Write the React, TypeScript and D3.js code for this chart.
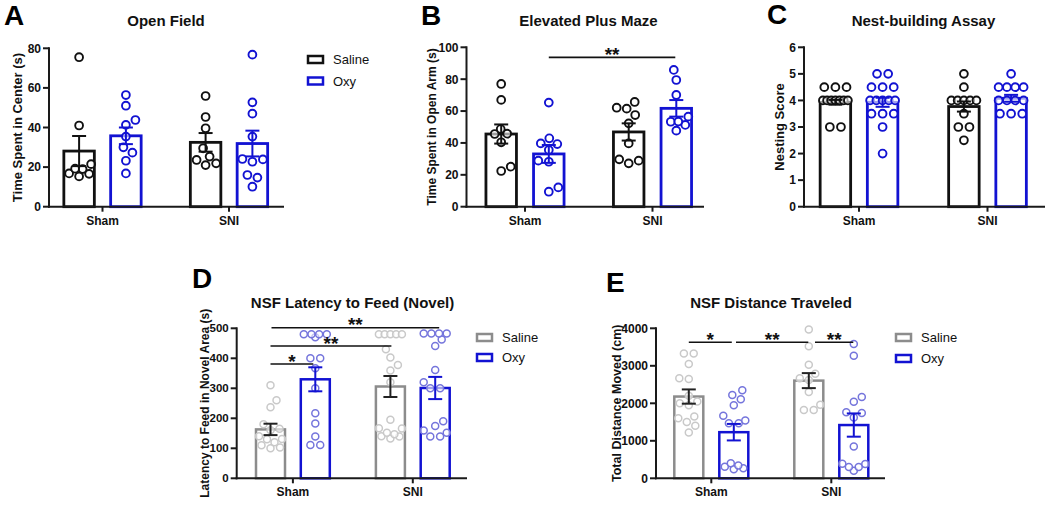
import React from "react";
import * as d3 from "d3";

const categories = ["Sham", "SNI"];
const seriesNames = ["Saline", "Oxy"];

// A: Open Field
const openFieldTicks = [0, 20, 40, 60, 80];
const openFieldSalineMean = [28.1, 32.5];
const openFieldSalineSem = [7.6, 4.7];
const openFieldOxyMean = [35.8, 31.9];
const openFieldOxySem = [4.2, 6.5];
const openFieldSalineSham = [75.5, 41, 21.5, 19, 16.8, 15.3, 16.6, 19.2];
const openFieldSalineSNI = [55.9, 45.3, 39.6, 29.5, 25.3, 23.6, 21.9, 21];
const openFieldOxySham = [56.4, 51, 43.8, 41.3, 35.4, 30, 27.3, 23.2, 16.8];
const openFieldOxySNI = [76.8, 52.7, 47, 35.4, 23.9, 24.1, 22.7, 16, 14.7, 10.1];

// B: Elevated Plus Maze
const plusMazeTicks = [0, 20, 40, 60, 80, 100];
const plusMazeSalineMean = [45.6, 46.9];
const plusMazeSalineSem = [6.0, 5.4];
const plusMazeOxyMean = [33.1, 61.7];
const plusMazeOxySem = [5.6, 5.2];
const plusMazeSalineSham = [77, 67, 48.7, 45.6, 45.8, 40.4, 25.1, 22.4];
const plusMazeSalineSNI = [65.7, 62.1, 61.5, 57.5, 52.3, 39.7, 29.7, 28.9, 27.2];
const plusMazeOxySham = [65.3, 42.9, 39.7, 39.3, 35.6, 28.9, 28.2, 12.1, 9.4];
const plusMazeOxySNI = [85.8, 79.5, 70.1, 56.5, 53.3, 53.4, 51.3, 47.7];

// C: Nest-building Assay
const nestTicks = [0, 1, 2, 3, 4, 5, 6];
const nestSalineMean = [3.93, 3.77];
const nestSalineSem = [0.09, 0.19];
const nestOxyMean = [3.93, 4.08];
const nestOxySem = [0.17, 0.13];
const nestSalineSham = [4.5, 4.5, 4.5, 4, 4, 4, 4, 4, 4, 4, 3, 3];
const nestSalineSNI = [5, 4.5, 4, 4, 4, 4, 4, 3.5, 3, 3, 2.5];
const nestOxySham = [5, 5, 4.5, 4.5, 4.5, 4, 4, 4, 4, 4, 3.5, 3.5, 3.5, 3, 2];
const nestOxySNI = [5, 4.5, 4.5, 4.5, 4.5, 4, 4, 4, 4, 3.5, 3.5, 3.5];

// D: NSF Latency to Feed (Novel)
const latencyTicks = [0, 100, 200, 300, 400, 500];
const latencySalineMean = [163, 306];
const latencySalineSem = [19, 35];
const latencyOxyMean = [330, 301];
const latencyOxySem = [40, 37];
const latencySalineSham = [310, 260, 237, 180, 165, 160, 140, 130, 131, 120, 110, 103, 100];
const latencySalineSNI = [480, 480, 480, 480, 480, 430, 403, 378, 359, 320, 195, 167, 166, 152, 147, 139, 140, 133];
const latencyOxySham = [480, 480, 480, 480, 470, 400, 400, 367, 300, 217, 183, 139, 111, 111];
const latencyOxySNI = [483, 483, 483, 483, 463, 441, 361, 320, 300, 300, 190, 174, 159, 152, 139, 139];

// E: NSF Distance Traveled
const distanceTicks = [0, 1000, 2000, 3000, 4000];
const distanceSalineMean = [2180, 2605];
const distanceSalineSem = [190, 200];
const distanceOxyMean = [1230, 1420];
const distanceOxySem = [220, 310];
const distanceSalineSham = [3330, 3330, 3050, 2670, 2650, 2200, 2050, 2000, 1950, 1650, 1600, 1500, 1400, 1220];
const distanceSalineSNI = [3970, 3520, 3030, 2790, 2670, 2620, 2300, 1960, 1820, 1820];
const distanceOxySham = [2350, 2220, 2110, 1950, 1670, 1540, 1470, 1470, 400, 340, 310, 270, 240];
const distanceOxySNI = [3580, 3270, 2170, 2040, 1760, 1740, 1620, 850, 390, 380, 300, 300, 200];

const FONT = "'Liberation Sans', Arial, Helvetica, sans-serif";
const BLUE = "#1212d2";

type Sig = { a: [number, number]; b: [number, number]; v: number; label: string; t0: number; t1: number };

type Panel = {
  letter: string; letterX: number; letterY: number;
  title: string; titleX: number; titleY: number;
  yLabel: string; yLabelX: number; yLabelSize: number; tickSize: number;
  ticks: number[]; yTop: number; yBottom: number;
  xStart: number; xEnd: number; centers: [number, number]; off: number; barW: number;
  means: number[][]; sems: number[][]; points: number[][][];
  barColors: string[]; ptColors: string[]; errColors: string[];
  r: number; ptStroke: number; barStroke: number; maxHalf: number;
  sig: Sig[];
};

function swarm(values: number[], y: (v: number) => number, d: number, maxHalf: number) {
  const sorted = [...values].sort((a, b) => a - b);
  const groups: number[][] = [];
  sorted.forEach((v) => {
    const g = groups[groups.length - 1];
    if (g && g[0] === v) g.push(v);
    else groups.push([v]);
  });
  const placed: { v: number; dx: number; py: number }[] = [];
  let toggle = 1;
  groups.forEach((g) => {
    const py = y(g[0]);
    if (g.length > 1) {
      const n = g.length;
      const sp = Math.min(d * 1.08, (2 * maxHalf) / (n - 1));
      g.forEach((v, i) => placed.push({ v, dx: (i - (n - 1) / 2) * sp, py }));
      return;
    }
    let best = 0, bestScore = -1, found = false;
    for (let k = 0; k <= maxHalf * 2 && !found; k++) {
      for (const s of [toggle, -toggle]) {
        const dx = (s * k) / 2;
        let minD = Infinity;
        placed.forEach((p) => {
          const dd = Math.hypot(dx - p.dx, py - p.py);
          if (dd < minD) minD = dd;
        });
        if (minD >= d) { best = dx; found = true; break; }
        if (minD > bestScore) { bestScore = minD; best = dx; }
        if (k === 0) break;
      }
    }
    if (best !== 0) toggle = -Math.sign(best);
    placed.push({ v: g[0], dx: best, py });
  });
  return placed;
}

const panels: Panel[] = [
  {
    letter: "A", letterX: 4, letterY: 25, title: "Open Field", titleX: 166, titleY: 26,
    yLabel: "Time Spent in Center (s)", yLabelX: 17, yLabelSize: 13, tickSize: 12,
    ticks: openFieldTicks, yTop: 48.3, yBottom: 206.7, xStart: 49, xEnd: 284,
    centers: [102.5, 229], off: 23.4, barW: 30.5,
    means: [openFieldSalineMean, openFieldOxyMean], sems: [openFieldSalineSem, openFieldOxySem],
    points: [[openFieldSalineSham, openFieldSalineSNI], [openFieldOxySham, openFieldOxySNI]],
    barColors: ["#111", BLUE], ptColors: ["#111", BLUE], errColors: ["#111", BLUE],
    r: 3.9, ptStroke: 1.9, barStroke: 2.8, maxHalf: 12, sig: [],
  },
  {
    letter: "B", letterX: 421, letterY: 25, title: "Elevated Plus Maze", titleX: 588.5, titleY: 26,
    yLabel: "Time Spent in Open Arm (s)", yLabelX: 432, yLabelSize: 12, tickSize: 12,
    ticks: plusMazeTicks, yTop: 47.3, yBottom: 206.7, xStart: 466.5, xEnd: 704,
    centers: [525, 652.5], off: 23.8, barW: 30.5,
    means: [plusMazeSalineMean, plusMazeOxyMean], sems: [plusMazeSalineSem, plusMazeOxySem],
    points: [[plusMazeSalineSham, plusMazeSalineSNI], [plusMazeOxySham, plusMazeOxySNI]],
    barColors: ["#111", BLUE], ptColors: ["#111", BLUE], errColors: ["#111", BLUE],
    r: 3.9, ptStroke: 1.9, barStroke: 2.8, maxHalf: 12,
    sig: [{ a: [0, 1], b: [1, 1], v: 93.7, label: "**", t0: 0, t1: -1 }],
  },
  {
    letter: "C", letterX: 767, letterY: 24, title: "Nest-building Assay", titleX: 923.5, titleY: 26,
    yLabel: "Nesting Score", yLabelX: 779, yLabelSize: 13, tickSize: 12,
    ticks: nestTicks, yTop: 47.3, yBottom: 206.7, xStart: 804, xEnd: 1045,
    centers: [859, 987.5], off: 23.6, barW: 30.5,
    means: [nestSalineMean, nestOxyMean], sems: [nestSalineSem, nestOxySem],
    points: [[nestSalineSham, nestSalineSNI], [nestOxySham, nestOxySNI]],
    barColors: ["#111", BLUE], ptColors: ["#111", BLUE], errColors: ["#111", BLUE],
    r: 3.9, ptStroke: 1.9, barStroke: 2.8, maxHalf: 12.5, sig: [],
  },
  {
    letter: "D", letterX: 192, letterY: 288, title: "NSF Latency to Feed (Novel)", titleX: 352.5, titleY: 308,
    yLabel: "Latency to Feed in Novel Area (s)", yLabelX: 205, yLabelSize: 12, tickSize: 11.5,
    ticks: latencyTicks, yTop: 328.3, yBottom: 478.3, xStart: 236.7, xEnd: 467,
    centers: [292.9, 412.8], off: 22.4, barW: 29,
    means: [latencySalineMean, latencyOxyMean], sems: [latencySalineSem, latencyOxySem],
    points: [[latencySalineSham, latencySalineSNI], [latencyOxySham, latencyOxySNI]],
    barColors: ["#8c8c8c", BLUE], ptColors: ["#c9c9c9", "#7575dc"], errColors: ["#222", BLUE],
    r: 3.5, ptStroke: 1.5, barStroke: 2.5, maxHalf: 11.5,
    sig: [
      { a: [0, 0], b: [0, 1], v: 381, label: "*", t0: 0, t1: -2 },
      { a: [0, 0], b: [1, 0], v: 441, label: "**", t0: 0, t1: 1 },
      { a: [0, 0], b: [1, 1], v: 502, label: "**", t0: 1, t1: 4 },
    ],
  },
  {
    letter: "E", letterX: 606, letterY: 292, title: "NSF Distance Traveled", titleX: 771, titleY: 308,
    yLabel: "Total Distance Moved (cm)", yLabelX: 616.5, yLabelSize: 12.5, tickSize: 12,
    ticks: distanceTicks, yTop: 328.3, yBottom: 478.3, xStart: 656, xEnd: 885,
    centers: [711.3, 831.3], off: 22.5, barW: 29,
    means: [distanceSalineMean, distanceOxyMean], sems: [distanceSalineSem, distanceOxySem],
    points: [[distanceSalineSham, distanceSalineSNI], [distanceOxySham, distanceOxySNI]],
    barColors: ["#8c8c8c", BLUE], ptColors: ["#c9c9c9", "#7575dc"], errColors: ["#222", BLUE],
    r: 3.5, ptStroke: 1.5, barStroke: 2.5, maxHalf: 11.5,
    sig: [
      { a: [0, 0], b: [0, 1], v: 3627, label: "*", t0: 0, t1: -2 },
      { a: [0, 1], b: [1, 0], v: 3627, label: "**", t0: 2.2, t1: -0.5 },
      { a: [1, 0], b: [1, 1], v: 3627, label: "**", t0: 6.2, t1: -0.5 },
    ],
  },
];

const legends = [
  { x: 308, y: [59.5, 81], colors: ["#111", BLUE] },
  { x: 477, y: [337.5, 357.5], colors: ["#8c8c8c", BLUE] },
  { x: 896, y: [337.5, 358.5], colors: ["#8c8c8c", BLUE] },
];

function PanelView({ p }: { p: Panel }) {
  const ymax = p.ticks[p.ticks.length - 1];
  const y = d3.scaleLinear().domain([0, ymax]).range([p.yBottom, p.yTop]);
  const x0 = d3.scalePoint<string>().domain(categories).range(p.centers);
  const x1 = d3.scalePoint<string>().domain(seriesNames).range([-p.off, p.off]);
  const cx = (ci: number, si: number) => (x0(categories[ci]) as number) + (x1(seriesNames[si]) as number);
  const d = p.r * 2 + p.ptStroke + 0.6;
  return (
    <g fontFamily={FONT}>
      <text x={p.letterX} y={p.letterY} fontSize={28} fontWeight="bold" fill="#000">{p.letter}</text>
      <text x={p.titleX} y={p.titleY} fontSize={15} fontWeight="bold" textAnchor="middle" fill="#111">{p.title}</text>
      <text transform={`translate(${p.yLabelX},${(p.yTop + p.yBottom) / 2}) rotate(-90)`} dy="0.36em"
        fontSize={p.yLabelSize} fontWeight="bold" textAnchor="middle" fill="#111">{p.yLabel}</text>
      {/* bars */}
      {seriesNames.map((s, si) =>
        categories.map((c, ci) => {
          const m = p.means[si][ci];
          return (
            <rect key={`b${si}${ci}`} x={cx(ci, si) - p.barW / 2} y={y(m)} width={p.barW} height={y(0) - y(m)}
              fill="#fff" stroke={p.barColors[si]} strokeWidth={p.barStroke} />
          );
        })
      )}
      {/* points */}
      {seriesNames.map((s, si) =>
        categories.map((c, ci) =>
          swarm(p.points[si][ci], y, d, p.maxHalf).map((pt, k) => (
            <circle key={`p${si}${ci}${k}`} cx={cx(ci, si) + pt.dx} cy={pt.py} r={p.r}
              fill="#fff" fillOpacity={0.6} stroke={p.ptColors[si]} strokeWidth={p.ptStroke} />
          ))
        )
      )}
      {/* error bars */}
      {seriesNames.map((s, si) =>
        categories.map((c, ci) => {
          const m = p.means[si][ci], e = p.sems[si][ci], xc = cx(ci, si);
          return (
            <g key={`e${si}${ci}`} stroke={p.errColors[si]} strokeWidth={2}>
              <line x1={xc} x2={xc} y1={y(m - e)} y2={y(m + e)} />
              <line x1={xc - 7} x2={xc + 7} y1={y(m + e)} y2={y(m + e)} />
              <line x1={xc - 7} x2={xc + 7} y1={y(m - e)} y2={y(m - e)} />
            </g>
          );
        })
      )}
      {/* axes */}
      <g stroke="#1a1a1a" strokeWidth={2} fill="none">
        <line x1={p.xStart} x2={p.xStart} y1={p.yTop - 1} y2={p.yBottom + 1} />
        <line x1={p.xStart - 1} x2={p.xEnd} y1={p.yBottom} y2={p.yBottom} />
        {p.ticks.map((t) => (
          <line key={`t${t}`} x1={p.xStart - 6} x2={p.xStart} y1={y(t)} y2={y(t)} />
        ))}
        {categories.map((c) => (
          <line key={`c${c}`} x1={x0(c)} x2={x0(c)} y1={p.yBottom} y2={p.yBottom + 5} />
        ))}
      </g>
      {p.ticks.map((t) => (
        <text key={`tl${t}`} x={p.xStart - 8} y={y(t)} dy="0.36em" textAnchor="end" fontSize={p.tickSize}
          fontWeight="bold" fill="#111">{t}</text>
      ))}
      {categories.map((c) => (
        <text key={`cl${c}`} x={x0(c)} y={p.yBottom + 18} textAnchor="middle" fontSize={12}
          fontWeight="bold" fill="#111">{c}</text>
      ))}
      {/* significance */}
      {p.sig.map((sg, i) => {
        const xa = cx(sg.a[0], sg.a[1]) + sg.t0;
        const xb = cx(sg.b[0], sg.b[1]) + sg.t1;
        const yy = y(sg.v);
        return (
          <g key={`s${i}`}>
            <line x1={xa} x2={xb} y1={yy} y2={yy} stroke="#111" strokeWidth={1.6} />
            <text x={(xa + xb) / 2} y={yy + 3.5} textAnchor="middle" fontSize={19} fontWeight="bold" fill="#111">{sg.label}</text>
          </g>
        );
      })}
    </g>
  );
}

export default function App() {
  return (
    <svg width={1050} height={507} style={{ position: "absolute", left: 0, top: 0, background: "#fff" }}>
      <rect width={1050} height={507} fill="#fff" />
      {panels.map((p) => (
        <PanelView key={p.letter} p={p} />
      ))}
      {legends.map((lg, li) => (
        <g key={`lg${li}`} fontFamily={FONT}>
          {seriesNames.map((s, si) => (
            <g key={s}>
              <rect x={lg.x} y={lg.y[si] - 3.5} width={15} height={7} fill="#fff" stroke={lg.colors[si]} strokeWidth={2.5} />
              <text x={lg.x + 25} y={lg.y[si]} dy="0.36em" fontSize={13} fill="#111">{s}</text>
            </g>
          ))}
        </g>
      ))}
    </svg>
  );
}
